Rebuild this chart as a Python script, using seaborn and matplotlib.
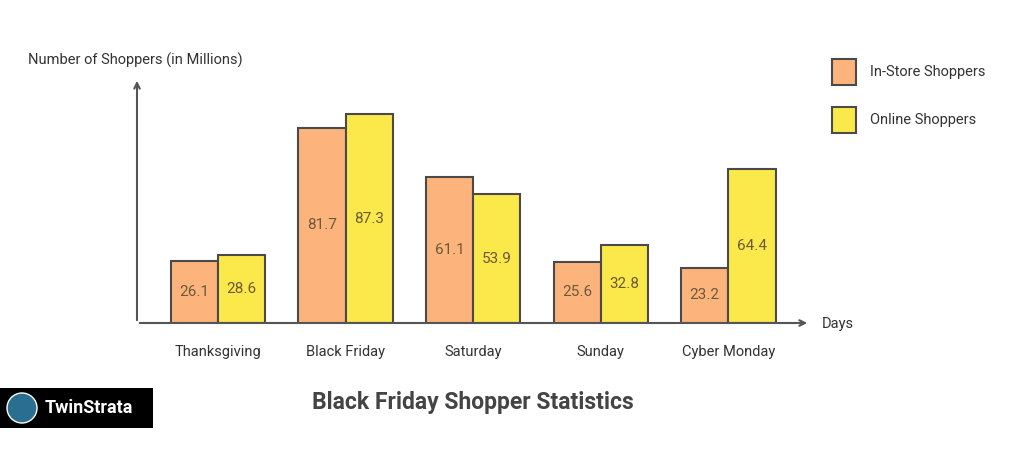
import matplotlib
matplotlib.use("Agg")
import matplotlib.pyplot as plt
import seaborn as sns
import pandas as pd
from matplotlib.patches import Rectangle, Ellipse

days = ["Thanksgiving", "Black Friday", "Saturday", "Sunday", "Cyber Monday"]
in_store = [26.1, 81.7, 61.1, 25.6, 23.2]
online = [28.6, 87.3, 53.9, 32.8, 64.4]
series = ["In-Store Shoppers", "Online Shoppers"]
colors = ["#fdb47c", "#fbe84a"]

df = pd.DataFrame({
    "day": days * 2,
    "value": in_store + online,
    "series": [series[0]] * 5 + [series[1]] * 5,
})

sns.set_style("white")
plt.rcParams["font.family"] = ["Roboto", "DejaVu Sans"]
fig = plt.figure(figsize=(10.24, 4.68), dpi=100)
ax = fig.add_axes([137/1024, 145/468, 673/1024, 245/468])
sns.barplot(data=df, x="day", y="value", hue="series", palette=colors, saturation=1,
            width=0.74, edgecolor="#4a4a4a", linewidth=1.5, ax=ax, legend=False)
ax.set_xlim(-0.635, 4.64)
ax.set_ylim(0, 102.5)
for s in ax.spines.values():
    s.set_visible(False)
ax.set_yticks([])
ax.set_xticks(range(5))
ax.set_xticklabels(days, fontsize=10.5, color="#333333")
ax.tick_params(axis="x", length=0, pad=16)
ax.set_xlabel(""); ax.set_ylabel("")
ax.annotate("", xy=(1.0, 0), xytext=(0, 0), xycoords="axes fraction",
            arrowprops=dict(arrowstyle="->", color="#555555", lw=1.5))
ax.annotate("", xy=(0, 1.0), xytext=(0, 0), xycoords="axes fraction",
            arrowprops=dict(arrowstyle="->", color="#555555", lw=1.5))
for c in ax.containers:
    for p, v in zip(c.patches, c.datavalues):
        ax.text(p.get_x() + p.get_width()/2, v/2, f"{v:.1f}", ha="center", va="center",
                fontsize=11, color="#6b5a3a")
fig.text(28/1024, 1 - 60/468, "Number of Shoppers (in Millions)", fontsize=10.5, color="#333333", va="center")
fig.text(822/1024, 1 - 324/468, "Days", fontsize=10.5, color="#333333", va="center")
fig.text(473/1024, 1 - 402/468, "Black Friday Shopper Statistics", fontsize=16.5, fontweight="bold",
         color="#444444", ha="center", va="center")
for i, (lab, col) in enumerate(zip(series, colors)):
    y = 72 + i * 48
    fig.patches.append(Rectangle((832/1024, 1 - (y + 13)/468), 24/1024, 26/468, transform=fig.transFigure,
                                 facecolor=col, edgecolor="#4a4a4a", lw=1.5))
    fig.text(870/1024, 1 - y/468, lab, fontsize=10.5, color="#333333", va="center")
fig.patches.append(Rectangle((0, 1 - 428/468), 153/1024, 40/468, transform=fig.transFigure,
                             facecolor="black", edgecolor="none"))
fig.text(45/1024, 1 - 408/468, "TwinStrata", fontsize=13, fontweight="bold", color="white", va="center")
fig.patches.append(Ellipse((22/1024, 1 - 408/468), 30/1024, 30/468, transform=fig.transFigure,
                           facecolor="#2a6f8f", edgecolor="white", lw=1))
fig.savefig("out.png", dpi=100)
